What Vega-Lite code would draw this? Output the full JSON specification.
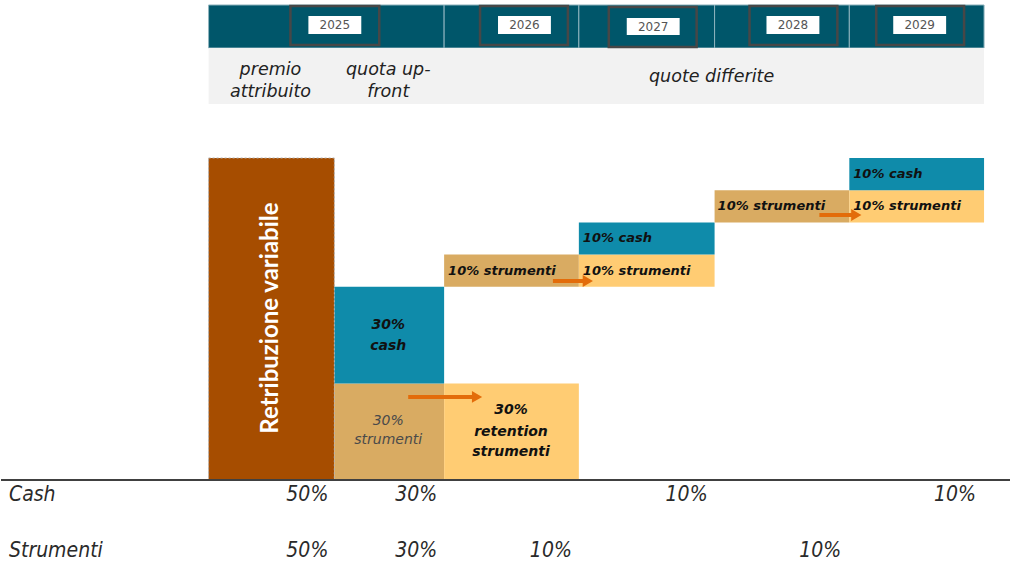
{
  "$schema": "https://vega.github.io/schema/vega-lite/v6.json",
  "width": 1011,
  "height": 565,
  "autosize": {"type": "fit", "contains": "padding"},
  "padding": 0,
  "background": "white",
  "config": {"view": {"stroke": null}},
  "datasets": {
    "header": [
      {"x": 208, "x2": 444, "y": 147.52, "y2": 134.16},
      {"x": 444, "x2": 579, "y": 147.52, "y2": 134.16},
      {"x": 579, "x2": 715, "y": 147.52, "y2": 134.16},
      {"x": 715, "x2": 850, "y": 147.52, "y2": 134.16},
      {"x": 850, "x2": 985, "y": 147.52, "y2": 134.16}
    ],
    "band": [{"x": 208, "x2": 985, "y": 134.16, "y2": 116.77}],
    "outline": [
      {"x": 290, "x2": 379, "y": 147.2, "y2": 135.1},
      {"x": 480, "x2": 568, "y": 147.2, "y2": 135.1},
      {"x": 609, "x2": 697, "y": 146.9, "y2": 134.5},
      {"x": 750, "x2": 838, "y": 147.2, "y2": 135.1},
      {"x": 877, "x2": 965, "y": 147.2, "y2": 135.1}
    ],
    "yearbox": [
      {"x": 308, "x2": 361, "y": 144.1, "y2": 138.5, "xc": 334.5, "yc": 141.3, "anno": "2025"},
      {"x": 498, "x2": 551, "y": 144.1, "y2": 138.5, "xc": 524.5, "yc": 141.3, "anno": "2026"},
      {"x": 627, "x2": 680, "y": 143.5, "y2": 138.2, "xc": 653.5, "yc": 140.8, "anno": "2027"},
      {"x": 767, "x2": 820, "y": 144.1, "y2": 138.5, "xc": 793.5, "yc": 141.3, "anno": "2028"},
      {"x": 894, "x2": 947, "y": 144.1, "y2": 138.5, "xc": 920.5, "yc": 141.3, "anno": "2029"}
    ],
    "bandtext": [
      {"x": 270, "y": 127.3, "t": "premio"},
      {"x": 270, "y": 120.5, "t": "attribuito"},
      {"x": 388, "y": 127.3, "t": "quota  up-"},
      {"x": 388, "y": 120.5, "t": "front"},
      {"x": 712, "y": 125.2, "t": "quote differite"}
    ],
    "blocks": [
      {"x": 208, "x2": 334, "y": 0, "y2": 100, "tipo": "variabile"},
      {"x": 334, "x2": 444, "y": 0, "y2": 30, "tipo": "strumenti differiti"},
      {"x": 334, "x2": 444, "y": 30, "y2": 60, "tipo": "cash"},
      {"x": 444, "x2": 579, "y": 0, "y2": 30, "tipo": "strumenti"},
      {"x": 444, "x2": 579, "y": 60, "y2": 70, "tipo": "strumenti differiti"},
      {"x": 579, "x2": 715, "y": 60, "y2": 70, "tipo": "strumenti"},
      {"x": 579, "x2": 715, "y": 70, "y2": 80, "tipo": "cash"},
      {"x": 715, "x2": 850, "y": 80, "y2": 90, "tipo": "strumenti differiti"},
      {"x": 850, "x2": 985, "y": 80, "y2": 90, "tipo": "strumenti"},
      {"x": 850, "x2": 985, "y": 90, "y2": 100, "tipo": "cash"}
    ],
    "arrows": [
      {"x": 408, "x2": 473, "y": 25.8, "xh": 477},
      {"x": 553, "x2": 584, "y": 61.8, "xh": 588},
      {"x": 820, "x2": 853, "y": 82.3, "xh": 857}
    ],
    "boldc": [
      {"x": 388, "y": 48.1, "t": "30%"},
      {"x": 388, "y": 41.6, "t": "cash"},
      {"x": 511, "y": 21.7, "t": "30%"},
      {"x": 511, "y": 14.9, "t": "retention"},
      {"x": 511, "y": 8.7, "t": "strumenti"}
    ],
    "boldl": [
      {"x": 448, "y": 65, "t": "10% strumenti"},
      {"x": 583, "y": 75, "t": "10% cash"},
      {"x": 583, "y": 65, "t": "10% strumenti"},
      {"x": 718, "y": 85, "t": "10% strumenti"},
      {"x": 854, "y": 95, "t": "10% cash"},
      {"x": 854, "y": 85, "t": "10% strumenti"}
    ],
    "grayc": [
      {"x": 388, "y": 18.3, "t": "30%"},
      {"x": 388, "y": 12.4, "t": "strumenti"}
    ],
    "vertical": [{"x": 271, "y": 50.3, "t": "Retribuzione variabile"}],
    "baseline": [{"x": 0, "x2": 1011, "y": 0}],
    "rowlabels": [
      {"x": 8, "y": -4.66, "t": "Cash"},
      {"x": 8, "y": -22.05, "t": "Strumenti"}
    ],
    "rowvalues": [
      {"x": 328, "y": -4.66, "t": "50%"},
      {"x": 437, "y": -4.66, "t": "30%"},
      {"x": 708, "y": -4.66, "t": "10%"},
      {"x": 977, "y": -4.66, "t": "10%"},
      {"x": 328, "y": -22.05, "t": "50%"},
      {"x": 437, "y": -22.05, "t": "30%"},
      {"x": 572, "y": -22.05, "t": "10%"},
      {"x": 842, "y": -22.05, "t": "10%"}
    ]
  },
  "encoding": {
    "x": {"field": "x", "type": "quantitative", "scale": {"domain": [0, 1011], "nice": false, "zero": false}, "axis": null},
    "y": {"field": "y", "type": "quantitative", "scale": {"domain": [-26.4, 149.07], "nice": false, "zero": false}, "axis": null}
  },
  "layer": [
    {
      "data": {"name": "header"},
      "mark": {"type": "rect", "fill": "#00566A", "stroke": "#8FB3BE", "strokeWidth": 1},
      "encoding": {"x2": {"field": "x2"}, "y2": {"field": "y2"}}
    },
    {
      "data": {"name": "band"},
      "mark": {"type": "rect", "fill": "#F2F2F2"},
      "encoding": {"x2": {"field": "x2"}, "y2": {"field": "y2"}}
    },
    {
      "data": {"name": "outline"},
      "mark": {"type": "rect", "fill": null, "stroke": "#474747", "strokeWidth": 2.5},
      "encoding": {"x2": {"field": "x2"}, "y2": {"field": "y2"}}
    },
    {
      "data": {"name": "yearbox"},
      "mark": {"type": "rect", "fill": "#FFFFFF"},
      "encoding": {"x2": {"field": "x2"}, "y2": {"field": "y2"}}
    },
    {
      "data": {"name": "yearbox"},
      "mark": {"type": "text", "font": "DejaVu Sans", "fontSize": 12, "color": "#555555", "align": "center", "baseline": "middle"},
      "encoding": {"x": {"field": "xc", "type": "quantitative"}, "y": {"field": "yc", "type": "quantitative"}, "text": {"field": "anno"}}
    },
    {
      "data": {"name": "bandtext"},
      "mark": {"type": "text", "font": "DejaVu Sans", "fontSize": 17.5, "fontStyle": "italic", "color": "#222222", "align": "center", "baseline": "middle"},
      "encoding": {"text": {"field": "t"}}
    },
    {
      "data": {"name": "blocks"},
      "mark": {"type": "rect"},
      "encoding": {
        "x2": {"field": "x2"},
        "y2": {"field": "y2"},
        "color": {"field": "tipo", "type": "nominal", "legend": null,
          "scale": {"domain": ["variabile", "cash", "strumenti", "strumenti differiti"], "range": ["#A64D00", "#0F8BAA", "#FFCC73", "#D9AB62"]}}
      }
    },
    {
      "data": {"name": "blocks"},
      "transform": [{"filter": "datum.tipo === 'variabile'"}],
      "mark": {"type": "rect", "fill": null, "stroke": "#B0B0B0", "strokeWidth": 1, "strokeDash": [2, 2]},
      "encoding": {"x2": {"field": "x2"}, "y2": {"field": "y2"}}
    },
    {
      "data": {"name": "arrows"},
      "mark": {"type": "rule", "color": "#E36C0A", "strokeWidth": 4},
      "encoding": {"x2": {"field": "x2"}}
    },
    {
      "data": {"name": "arrows"},
      "mark": {"type": "point", "shape": "triangle-right", "filled": true, "color": "#E36C0A", "size": 140, "opacity": 1},
      "encoding": {"x": {"field": "xh", "type": "quantitative"}}
    },
    {
      "data": {"name": "boldc"},
      "mark": {"type": "text", "font": "DejaVu Sans", "fontSize": 14, "fontStyle": "italic", "fontWeight": "bold", "color": "#111111", "align": "center", "baseline": "middle"},
      "encoding": {"text": {"field": "t"}}
    },
    {
      "data": {"name": "boldl"},
      "mark": {"type": "text", "font": "DejaVu Sans", "fontSize": 13, "fontStyle": "italic", "fontWeight": "bold", "color": "#111111", "align": "left", "baseline": "middle"},
      "encoding": {"text": {"field": "t"}}
    },
    {
      "data": {"name": "grayc"},
      "mark": {"type": "text", "font": "DejaVu Sans", "fontSize": 14, "fontStyle": "italic", "color": "#4A4A4A", "align": "center", "baseline": "middle"},
      "encoding": {"text": {"field": "t"}}
    },
    {
      "data": {"name": "vertical"},
      "mark": {"type": "text", "font": "Lato", "fontSize": 24, "fontWeight": "bold", "color": "#FFFFFF", "angle": 270, "align": "center", "baseline": "middle"},
      "encoding": {"text": {"field": "t"}}
    },
    {
      "data": {"name": "baseline"},
      "mark": {"type": "rule", "color": "#404040", "strokeWidth": 2},
      "encoding": {"x2": {"field": "x2"}}
    },
    {
      "data": {"name": "rowlabels"},
      "mark": {"type": "text", "font": "DejaVu Sans Condensed", "fontSize": 21, "fontStyle": "italic", "color": "#2A2A2A", "align": "left", "baseline": "middle"},
      "encoding": {"text": {"field": "t"}}
    },
    {
      "data": {"name": "rowvalues"},
      "mark": {"type": "text", "font": "DejaVu Sans Condensed", "fontSize": 21, "fontStyle": "italic", "color": "#2A2A2A", "align": "right", "baseline": "middle"},
      "encoding": {"text": {"field": "t"}}
    }
  ]
}
